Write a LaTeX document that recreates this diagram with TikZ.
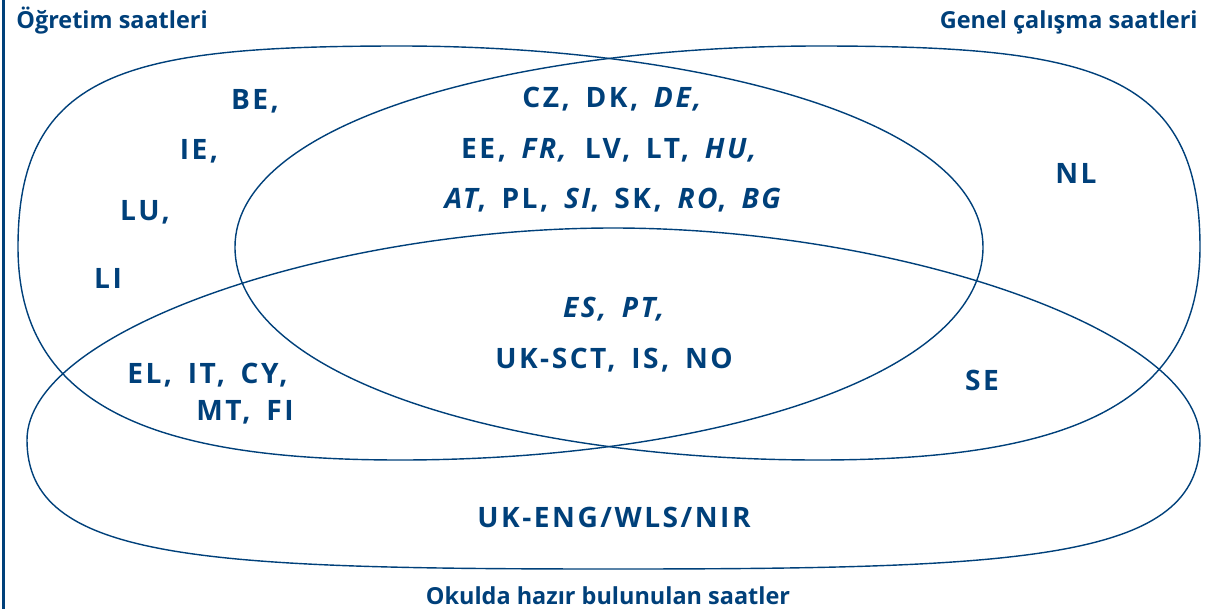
\documentclass[tikz,border=0pt]{standalone}
\usepackage{fontspec}
\setmainfont{Open Sans}
\newfontfamily\codefont[LetterSpace=9, WordSpace=1.6]{Open Sans}
\usetikzlibrary{positioning}
\definecolor{eurblue}{RGB}{0,64,122}
\tikzset{
  vennline/.style={draw=eurblue, line width=0.8pt},
  setlabel/.style={text=eurblue, font=\fontsize{13.35}{16}\selectfont\bfseries,
                   inner sep=0pt},
  codelabel/.style={text=eurblue, font=\codefont\fontsize{16}{19}\selectfont\bfseries,
                    inner sep=0pt, anchor=base}
}

\begin{document}
\begin{tikzpicture}[x=0.02cm, y=-0.02cm]
    \useasboundingbox (0,0) rectangle (1205,609);
    \draw[eurblue, line width=1.2pt] (3.5,0) -- (3.5,609);

    % Teaching hours (left egg)
    \draw[vennline] (18,247) .. controls (18,70) and (130,46) .. (400,46)
      .. controls (700,46) and (983,120) .. (983,247)
      .. controls (983,380) and (700,460) .. (400,460)
      .. controls (160,460) and (18,410) .. (18,247) -- cycle;
    % Overall working hours (mirrored)
    \begin{scope}[shift={(1218,0)}, xscale=-1]
      \draw[vennline] (18,247) .. controls (18,70) and (130,46) .. (400,46)
        .. controls (700,46) and (983,120) .. (983,247)
        .. controls (983,380) and (700,460) .. (400,460)
        .. controls (160,460) and (18,410) .. (18,247) -- cycle;
    \end{scope}
    % Hours at school
    \draw[vennline] (27,440) .. controls (27,330) and (330,228) .. (613,228)
      .. controls (897,228) and (1200,330) .. (1200,440)
      .. controls (1200,560) and (1027,569) .. (613,569)
      .. controls (200,569) and (27,560) .. (27,440) -- cycle;

    % Set names
    \node[setlabel, anchor=base west] (ogretim) at (16,28) {Öğretim saatleri};
    \node[setlabel, anchor=base east] (genel) at (1198,28) {Genel çalışma saatleri};
    \node[setlabel, anchor=base] (okulda) at (608,604) {Okulda hazır bulunulan saatler};

    % Countries
    \node[codelabel] (be) at (255,109) {BE,};
    \node[codelabel] (ie) at (199,159) {IE,};
    \node[codelabel] (lu) at (145,220) {LU,};
    \node[codelabel] (li) at (108,288) {LI};
    \node[codelabel] (cz) at (613,107) {CZ, DK, \textit{DE,}};
    \node[codelabel] (ee) at (610,158) {EE, \textit{FR,} LV, LT, \textit{HU,}};
    \node[codelabel] (at) at (614,208) {\textit{AT}, PL, \textit{SI}, SK, \textit{RO}, \textit{BG}};
    \node[codelabel] (nl) at (1076,183) {NL};
    \node[codelabel] (es) at (615,317) {\textit{ES, PT,}};
    \node[codelabel] (sct) at (614,368) {UK-SCT, IS, NO};
    \node[codelabel, anchor=base east] (el) at (288,383) {EL, IT, CY,};
    \node[codelabel, anchor=base east] (mt) at (294,420) {MT, FI};
    \node[codelabel] (se) at (982,390) {SE};
    \node[codelabel] (eng) at (614,527) {UK-ENG/WLS/NIR};
\end{tikzpicture}
\end{document}
